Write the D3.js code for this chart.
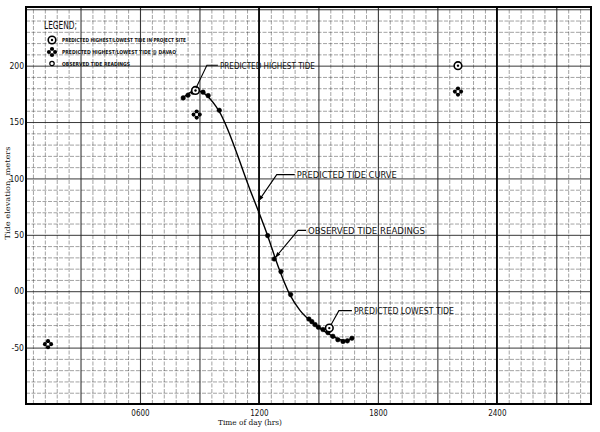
<!DOCTYPE html>
<html>
<head>
<meta charset="utf-8">
<script src="https://cdn.jsdelivr.net/npm/d3@7"></script>
<style>
  body { margin: 0; background: #fff; }
  svg { display: block; }
  .grid line { stroke: #222; }
  .grid path { display: none; }
  .lbl { font-family: "DejaVu Sans Condensed", "Liberation Sans Narrow", sans-serif; fill: #111; }
  .type { font-family: "DejaVu Serif Condensed", "Liberation Serif", serif; fill: #111; }
</style>
</head>
<body>
<div id="chart"></div>
<script>
// predicted tide curve (hours of day, elevation m)
var curveHours = [8.17, 8.52, 8.82, 9.18, 9.43, 9.98, 11.55, 12.39, 12.97, 13.56, 14.07, 14.57, 15.08, 15.58, 16.09, 16.44, 16.69];
var curveElev  = [171.6, 176, 178.3, 176, 172.5, 160, 90, 51.7, 22, -3, -17, -26, -33, -38.5, -43, -44, -41];

// observed tide readings
var obsHours = [8.18, 8.42, 8.67, 9.18, 9.44, 10.0, 12.44, 12.77, 13.11, 13.6, 14.52, 14.67, 14.83, 15.0, 15.23, 15.48, 15.73, 15.98, 16.24, 16.46, 16.69];
var obsElev  = [171.4, 173.8, 176.5, 176.5, 173.4, 160.4, 49.3, 28.6, 17.4, -3, -24.7, -27, -29.6, -32, -34, -36.7, -40, -43, -44.5, -44, -41.7];

// predicted highest / lowest tide in project site
var siteHours = [8.8, 15.55, 22.04];
var siteElev  = [178, -32.7, 200];

// predicted highest / lowest tide @ Davao
var davaoHours = [8.86, 1.36, 22.04];
var davaoElev  = [156.6, -47, 177];

// axis ticks
var xTickValues = [6, 12, 18, 24];
var xTickLabels = ["0600", "1200", "1800", "2400"];
var yTickValues = [-50, 0, 50, 100, 150, 200];
var yTickLabels = ["-50", "00", "50", "100", "150", "200"];

// callouts: text, where the leader points (hour, elevation)
var noteText  = ["PREDICTED HIGHEST TIDE", "PREDICTED TIDE CURVE", "OBSERVED  TIDE READINGS", "PREDICTED LOWEST TIDE"];
var noteHour  = [8.82, 11.97, 12.81, 15.63];
var noteElev  = [180, 79.7, 29.5, -29.9];

var legendText = ["PREDICTED HIGHEST/LOWEST TIDE IN PROJECT SITE", "PREDICTED HIGHEST/LOWEST TIDE @ DAVAO", "OBSERVED TIDE READINGS"];

var svgWidth = 600, svgHeight = 432;
var margin = { top: 7, right: 9, bottom: 28, left: 26 };
var width = svgWidth - margin.left - margin.right;
var height = svgHeight - margin.top - margin.bottom;

var svg = d3.select("#chart").append("svg")
  .attr("width", svgWidth)
  .attr("height", svgHeight);

var chartGroup = svg.append("g")
  .attr("transform", `translate(${margin.left}, ${margin.top})`);

var x = d3.scaleLinear().domain([0.25, 28.75]).range([0, width]);
var y = d3.scaleLinear().domain([-100, 252]).range([height, 0]);

// graph paper grid
chartGroup.append("g")
  .attr("class", "grid")
  .call(d3.axisLeft(y).tickValues(d3.range(-90, 252, 10)).tickSize(-width).tickFormat(""))
  .selectAll("line")
  .attr("stroke-width", d => d % 50 === 0 ? 1 : 0.7)
  .attr("stroke-dasharray", d => d % 50 === 0 ? null : "4,1.5")
  .attr("opacity", d => d % 50 === 0 ? 0.9 : 0.6);

function isMajor(d) {
  var r = d % 3;
  return r < 0.01 || r > 2.99;
}

chartGroup.append("g")
  .attr("class", "grid")
  .attr("transform", `translate(0, ${height})`)
  .call(d3.axisBottom(x).tickValues(d3.range(0.6, 28.7, 0.6)).tickSize(-height).tickFormat(""))
  .selectAll("line")
  .attr("stroke-width", d => isMajor(d) ? 1.1 : 0.7)
  .attr("stroke-dasharray", d => isMajor(d) ? null : "4,1.5")
  .attr("opacity", d => isMajor(d) ? 0.9 : 0.6);

// heavier lines at 1200 and 2400
chartGroup.selectAll(".heavy")
  .data([12, 24])
  .enter()
  .append("line")
  .attr("x1", d => x(d)).attr("x2", d => x(d))
  .attr("y1", 0).attr("y2", height)
  .attr("stroke", "#000")
  .attr("stroke-width", 1.6);

// frame
chartGroup.append("rect")
  .attr("width", width)
  .attr("height", height)
  .attr("fill", "none")
  .attr("stroke", "#000")
  .attr("stroke-width", 2);

// tick labels
var xAxis = chartGroup.append("g")
  .attr("transform", `translate(0, ${height})`)
  .call(d3.axisBottom(x).tickValues(xTickValues).tickSize(0).tickPadding(6)
    .tickFormat((d, i) => xTickLabels[i]));
xAxis.select(".domain").remove();
xAxis.selectAll("text").attr("class", "lbl").attr("font-size", 8);

var yAxis = chartGroup.append("g")
  .call(d3.axisLeft(y).tickValues(yTickValues).tickSize(0).tickPadding(2)
    .tickFormat((d, i) => yTickLabels[i]));
yAxis.select(".domain").remove();
yAxis.selectAll("text").attr("class", "lbl").attr("font-size", 8.5);

// axis titles
svg.append("text")
  .attr("class", "type")
  .attr("x", 250)
  .attr("y", 425)
  .attr("text-anchor", "middle")
  .attr("font-size", 8)
  .attr("textLength", 64)
  .attr("lengthAdjust", "spacingAndGlyphs")
  .text("Time of day (hrs)");

svg.append("text")
  .attr("class", "type")
  .attr("transform", "translate(10, 193) rotate(-90)")
  .attr("text-anchor", "middle")
  .attr("font-size", 7)
  .attr("textLength", 93)
  .attr("lengthAdjust", "spacingAndGlyphs")
  .text("Tide elevation, meters");

// predicted tide curve
var curveData = curveHours.map((h, i) => ({ h: h, v: curveElev[i] }));
var line = d3.line()
  .x(d => x(d.h))
  .y(d => y(d.v))
  .curve(d3.curveMonotoneX);

chartGroup.append("path")
  .datum(curveData)
  .attr("d", line)
  .attr("fill", "none")
  .attr("stroke", "#000")
  .attr("stroke-width", 1.4);

// marker drawing helpers
function drawSite(g, cx, cy) {
  g.append("circle").attr("cx", cx).attr("cy", cy).attr("r", 3.8)
    .attr("fill", "#fff").attr("stroke", "#000").attr("stroke-width", 1.6);
  g.append("circle").attr("cx", cx).attr("cy", cy).attr("r", 1.2).attr("fill", "#000");
}
function drawDavao(g, cx, cy) {
  [[-3, 0], [3, 0], [0, -3], [0, 3]].forEach(function(o) {
    g.append("circle").attr("cx", cx + o[0]).attr("cy", cy + o[1]).attr("r", 2.1).attr("fill", "#000");
  });
  g.append("circle").attr("cx", cx).attr("cy", cy).attr("r", 1.3).attr("fill", "#fff");
}
function drawObs(g, cx, cy, hollow) {
  g.append("circle").attr("cx", cx).attr("cy", cy).attr("r", hollow ? 2.2 : 2.3)
    .attr("fill", hollow ? "#fff" : "#000").attr("stroke", "#000").attr("stroke-width", hollow ? 1.2 : 0.5);
}

// observed readings
var obsGroup = chartGroup.append("g");
obsHours.forEach(function(h, i) {
  drawObs(obsGroup, x(h), y(obsElev[i]), false);
});

// Davao predictions
var davaoGroup = chartGroup.append("g");
davaoHours.forEach(function(h, i) {
  drawDavao(davaoGroup, x(h), y(davaoElev[i]));
});

// project site predictions
var siteGroup = chartGroup.append("g");
siteHours.forEach(function(h, i) {
  drawSite(siteGroup, x(h), y(siteElev[i]));
});

// callouts: leader goes up-right to an elbow, then across to the text
var elbowDx = [11, 18.4, 23, 8];
var elbowDy = [-23, -26.7, -27.6, -14.3];
var runLen  = [11, 18, 8, 13];
var textLen = [95, 100, 117, 100];
var arrowOn = [false, true, true, false];

noteText.forEach(function(t, i) {
  var tx = x(noteHour[i]), ty = y(noteElev[i]);
  var ex = tx + elbowDx[i], ey = ty + elbowDy[i];
  var g = chartGroup.append("g");
  g.append("path")
    .attr("d", `M${tx},${ty}L${ex},${ey}L${ex + runLen[i]},${ey}`)
    .attr("fill", "none")
    .attr("stroke", "#000")
    .attr("stroke-width", 1.1);
  if (arrowOn[i]) {
    var ang = Math.atan2(ey - ty, ex - tx) * 180 / Math.PI;
    g.append("path")
      .attr("d", "M0,0L6,-2L6,2Z")
      .attr("fill", "#000")
      .attr("transform", `translate(${tx},${ty}) rotate(${ang})`);
  }
  g.append("text")
    .attr("class", "lbl")
    .attr("x", ex + runLen[i] + 2)
    .attr("y", ey + 3.5)
    .attr("font-size", 9.5)
    .attr("textLength", textLen[i])
    .attr("lengthAdjust", "spacingAndGlyphs")
    .text(t);
});

// legend
var legend = svg.append("g");
legend.append("text")
  .attr("class", "lbl")
  .attr("x", 44)
  .attr("y", 29)
  .attr("font-size", 10)
  .attr("textLength", 33)
  .attr("lengthAdjust", "spacingAndGlyphs")
  .text("LEGEND;");

var legendY = [40, 52, 63.5];
var legendLen = [124, 114, 68];
legendText.forEach(function(t, i) {
  if (i === 0) drawSite(legend, 52, legendY[i]);
  else if (i === 1) drawDavao(legend, 52, legendY[i]);
  else drawObs(legend, 52, legendY[i], true);
  legend.append("text")
    .attr("class", "lbl")
    .attr("x", 62)
    .attr("y", legendY[i] + 2)
    .attr("font-size", 5.5)
    .attr("font-weight", "bold")
    .attr("textLength", legendLen[i])
    .attr("lengthAdjust", "spacingAndGlyphs")
    .text(t);
});
</script>
</body>
</html>
